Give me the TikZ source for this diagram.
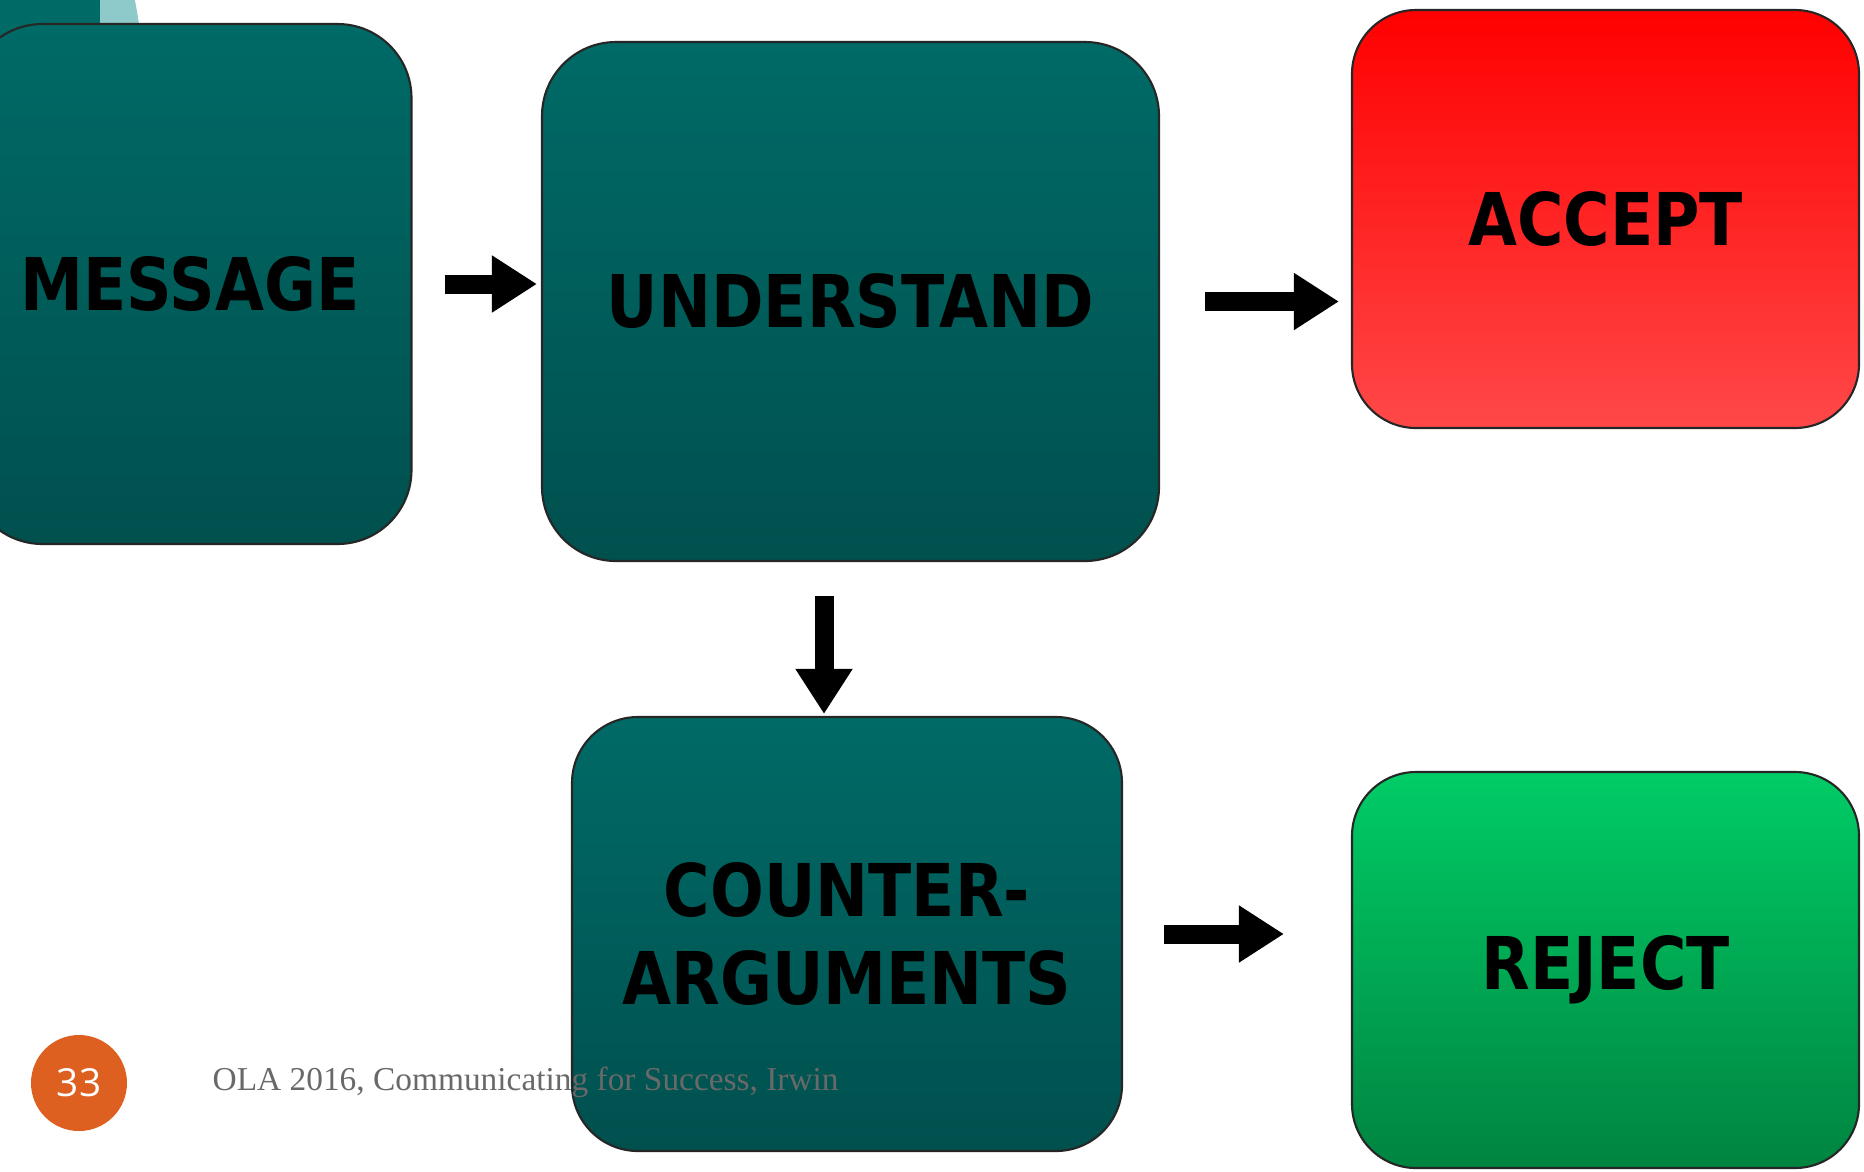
\documentclass[tikz,border=0pt]{standalone}
\usepackage{fontspec}
\usepackage{graphicx}
\setmainfont{Liberation Serif}
\newfontfamily\boxfont{DejaVu Sans}
\newfontfamily\numfont{Open Sans}
\usetikzlibrary{arrows.meta}
\definecolor{tealtop}{RGB}{0,106,102}
\definecolor{tealbot}{RGB}{0,80,78}
\definecolor{redtop}{RGB}{255,0,0}
\definecolor{redbot}{RGB}{255,72,72}
\definecolor{greentop}{RGB}{0,204,102}
\definecolor{greenbot}{RGB}{0,132,64}
\definecolor{slideorange}{RGB}{222,96,32}
\definecolor{footgray}{RGB}{105,105,105}
\definecolor{paleteal}{RGB}{142,202,202}
\newcommand{\sq}[1]{\scalebox{0.87}[1]{#1}}
\begin{document}
\begin{tikzpicture}[
  box/.style={draw=black!85, line width=0.6pt, inner sep=0pt,
    font=\boxfont\bfseries\fontsize{20.7}{25.3}\selectfont, align=center},
  tealbox/.style={box, rounded corners=0.74cm, top color=tealtop, bottom color=tealbot},
  acceptbox/.style={box, rounded corners=0.64cm, top color=redtop, bottom color=redbot},
  rejectbox/.style={box, rounded corners=0.64cm, top color=greentop, bottom color=greenbot},
  flow/.style={-{Triangle[length=0.45cm,width=0.54cm]}, line width=0.19cm}]
\clip (0,0) rectangle (18.64,-11.71);
\fill[white] (0,0) rectangle (18.64,-11.71);
% slide decoration, top left
\fill[paleteal] (-2.0,-0.70) circle (3.42cm);
\fill[tealtop] (-2.0,-0.12) circle (3.0cm);
% boxes
\node[tealbox, minimum width=4.43cm, minimum height=5.2cm] (msg) at (1.90,-2.84) {\sq{MESSAGE}};
\node[tealbox, minimum width=6.17cm, minimum height=5.19cm] (und) at (8.505,-3.015) {\sq{UNDERSTAND}};
\node[acceptbox, minimum width=5.07cm, minimum height=4.18cm] (acc) at (16.055,-2.19) {\sq{ACCEPT}};
\node[tealbox, rounded corners=0.66cm, minimum width=5.50cm, minimum height=4.34cm] (ctr) at (8.47,-9.34) {\sq{COUNTER-}\\\sq{ARGUMENTS}};
\node[rejectbox, minimum width=5.07cm, minimum height=3.96cm] (rej) at (16.055,-9.70) {\sq{REJECT}};
% arrows
\draw[flow, shorten <=0.32cm, shorten >=0.04cm] (msg.east) -- (msg.east -| und.west);
\draw[flow, shorten <=0.45cm, shorten >=0.12cm] (und.east) -- (und.east -| acc.west);
\draw[flow, shorten <=0.34cm, shorten >=0.02cm] ([xshift=-0.265cm]und.south) -- ([xshift=-0.265cm]und.south |- ctr.north);
\draw[flow, shorten <=0.41cm, shorten >=0.67cm] (ctr.east) -- (ctr.east -| rej.west);
% footer
\node[circle, fill=slideorange, minimum size=0.96cm, inner sep=0pt, text=white,
  font=\numfont\fontsize{11}{13}\selectfont] (page) at (0.79,-10.83) {33};
\node[anchor=base west, inner sep=0pt, text=footgray, font=\fontsize{9.5}{11}\selectfont] (foot) at (2.12,-10.90) {OLA 2016, Communicating for Success, Irwin};
\end{tikzpicture}
\end{document}
